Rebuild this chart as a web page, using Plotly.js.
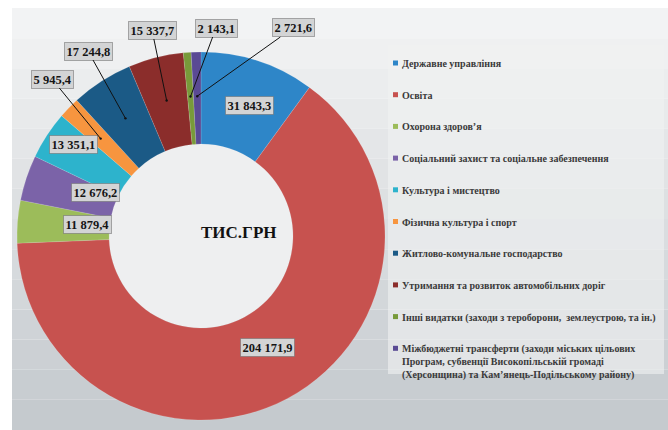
<!DOCTYPE html>
<html>
<head>
<meta charset="utf-8">
<script src="https://cdn.plot.ly/plotly-3.0.1.min.js"></script>
<style>html,body{margin:0;padding:0;background:#fff;}#chart{width:668px;height:430px;}</style>
</head>
<body>
<div id="chart"></div>
<script>
// ---- data ----
const categories = [
  "Державне управління",
  "Освіта",
  "Охорона здоров’я",
  "Соціальний захист та соціальне забезпечення",
  "Культура і мистецтво",
  "Фізична культура і спорт",
  "Житлово-комунальне господарство",
  "Утримання та розвиток автомобільних доріг",
  "Інші видатки (заходи з тероборони,  землеустрою, та ін.)",
  "Міжбюджетні трансферти (заходи міських цільових<br>Програм, субвенції Високопільській громаді<br>(Херсонщина) та Кам’янець-Подільському району)"
];
const values = [31843.3, 204171.9, 11879.4, 12676.2, 13351.1, 5945.4, 17244.8, 15337.7, 2143.1, 2721.6];
const colors = ["#2e86c8", "#c7524f", "#9cbc5a", "#7b63a8", "#2db3cc", "#f7953f", "#1b5a86", "#8b2d2b", "#789a3a", "#5a4a94"];
const centerLabel = "ТИС.ГРН";

// ---- layout helpers ----
const W = 668, H = 430;
const CX = 201, CY = 236, R = 184;
const SERIF = "'Liberation Serif', 'DejaVu Serif', serif";
// label box centres (pixels) and whether a leader line is drawn
const labelPos = [[249, 96], [267, 357], [63, 224], [71, 192], [49, 135], [52, 79], [88, 51], [152, 30], [216, 28], [293, 28]];
const leader = [false, false, false, false, false, true, true, true, true, true];

function fmt(v) {
  const parts = v.toFixed(1).split(".");
  const intp = parts[0].replace(/\B(?=(\d{3})+(?!\d))/g, " ");
  return intp + "," + parts[1];
}
const px = x => x / W;
const py = y => 1 - y / H;

const shapes = [];
// background: white margin + vertical grey gradient built from bands
const bgTop = 8, bgBottom = H, bands = 14;
const c0 = [242, 243, 244], c1 = [197, 202, 206];
for (let b = 0; b < bands; b++) {
  const t = b / (bands - 1);
  const col = c0.map((c, k) => Math.round(c + (c1[k] - c) * t));
  const y0 = bgTop + (bgBottom - bgTop) * b / bands, y1 = bgTop + (bgBottom - bgTop) * (b + 1) / bands;
  shapes.push({type: "rect", xref: "paper", yref: "paper", x0: px(12), x1: 1, y0: py(y1), y1: py(y0),
    fillcolor: "rgb(" + col.join(",") + ")", line: {width: 0}, layer: "below"});
}
// legend panel
shapes.push({type: "rect", xref: "paper", yref: "paper", x0: px(388), x1: px(664), y0: py(374), y1: py(45),
  fillcolor: "rgba(240,241,242,0.6)", line: {width: 0}, layer: "below"});
// donut hole
shapes.push({type: "circle", xref: "paper", yref: "paper", x0: px(CX - 92), x1: px(CX + 92), y0: py(CY + 92), y1: py(CY - 92),
  fillcolor: "#eeeff0", line: {width: 0}, layer: "below"});

const total = values.reduce((a, b) => a + b, 0);
let cum = 0;
const annotations = [];
values.forEach((v, i) => {
  const mid = (cum + v / 2) / total * 2 * Math.PI;
  cum += v;
  const [lx, ly] = labelPos[i];
  const base = {
    text: "<b>" + fmt(v) + "</b>",
    font: {family: SERIF, size: 12.5, color: "#151515"},
    bgcolor: "#d3d4d5",
    bordercolor: "rgba(110,110,110,0.55)",
    borderwidth: 1,
    borderpad: 1.5,
    xref: "paper", yref: "paper"
  };
  if (leader[i]) {
    const r = 0.76 * R;
    const tx = CX + r * Math.sin(mid), ty = CY - r * Math.cos(mid);
    annotations.push(Object.assign(base, {
      x: px(tx), y: py(ty), ax: lx - tx, ay: ly - ty,
      showarrow: true, arrowhead: 6, arrowsize: 0.6, arrowwidth: 1, arrowcolor: "#111",
      axref: "pixel", ayref: "pixel"
    }));
  } else {
    annotations.push(Object.assign(base, {x: px(lx), y: py(ly), showarrow: false}));
  }
});
annotations.push({
  text: "<b>" + centerLabel + "</b>", x: px(CX - 2), y: py(232), xref: "paper", yref: "paper",
  showarrow: false, font: {family: SERIF, size: 17, color: "#111"}
});

// legend (drawn as annotations + small squares)
const legX = 393, legY0 = 63, legStep = 31.7;
categories.forEach((c, i) => {
  const y = legY0 + i * legStep;
  shapes.push({type: "rect", xref: "paper", yref: "paper", x0: px(legX), x1: px(legX + 5), y0: py(y + 2.5), y1: py(y - 2.5),
    fillcolor: colors[i], line: {width: 0}});
  annotations.push({
    text: "<b>" + c + "</b>", x: px(legX + 7), y: py(y - 7), xref: "paper", yref: "paper",
    xanchor: "left", yanchor: "top", align: "left", showarrow: false,
    font: {family: SERIF, size: 10, color: "#3a3a3a"}
  });
});

const trace = {
  type: "pie",
  labels: categories,
  values: values,
  marker: {colors: colors, line: {color: "rgba(255,255,255,0.25)", width: 0.5}},
  hole: 0.5,
  sort: false,
  direction: "clockwise",
  rotation: 0,
  textinfo: "none",
  hoverinfo: "none",
  domain: {x: [px(CX - R), px(CX + R)], y: [py(CY + R), py(CY - R)]}
};

const layout = {
  width: W, height: H,
  margin: {l: 0, r: 0, t: 0, b: 0},
  paper_bgcolor: "#ffffff",
  showlegend: false,
  shapes: shapes,
  annotations: annotations
};

Plotly.newPlot("chart", [trace], layout, {displayModeBar: false, staticPlot: true});
</script>
</body>
</html>
